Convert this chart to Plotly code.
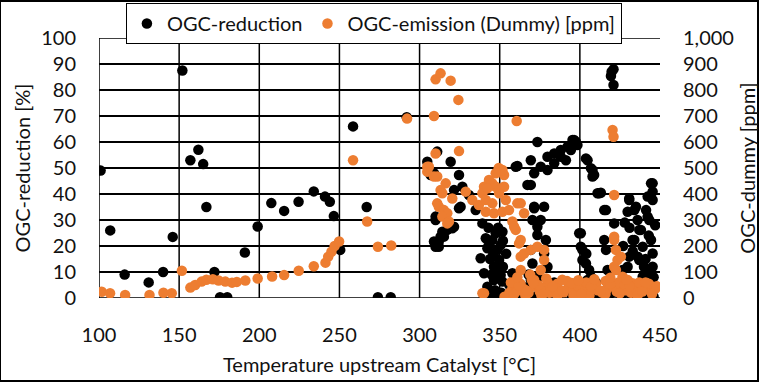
import plotly.graph_objects as go

# ---------------- data ----------------
red_temp = [101, 107, 116, 131, 140, 146, 152, 157, 162, 165, 167, 172, 175.5, 180, 191, 199,
            207.5, 215.5, 224.5, 234, 241, 244, 246.5, 250.5, 258.5, 267, 274, 282, 292,
            304.8, 306.9, 309, 311, 319.4, 321.5, 324.6, 326.7, 330.8, 335, 324.6, 325.6, 339.2,
            310, 310, 314.2, 317.3, 320.4, 321.5, 312, 309, 313.1, 315.2, 310, 312,
            341.3, 345.4, 347.5, 351.7, 342.3, 348.5, 350.6, 338.1, 349.6, 347.5, 346.4,
            340.2, 350.6, 357.9, 346.4, 342.3, 351.7, 353.8, 340.2, 354.8,
            360, 361, 367.3, 369.4, 369.4, 371.5, 373.5, 375.6, 379.8, 379.8, 384, 384,
            388.1, 388.1, 391.3, 392.3, 394.4, 395.4, 397.5, 398.5, 396.4, 403.8, 404.8,
            406.9, 407.9, 407.9, 408.9, 411, 412, 413.1, 415.2, 416.3,
            419.4, 419.8, 421, 421, 421.4, 430.8, 430.8, 429.8, 435, 434, 442.3, 445.4,
            444.4, 445.4, 445.4, 441.3, 443.3, 442.3, 438.1, 437.1, 444.4, 432.9, 434,
            439.2, 445.4, 436.1, 437.1, 445.4, 429.8, 442.3, 439.2, 440.2, 425.6, 426.6,
            430.8, 417.3, 415.2, 416.3, 399.6, 400.6, 400.6, 401.6, 401.6, 403.8, 405.8,
            404.8, 406.9, 370.4, 373.5, 375.6, 377.7, 371.5, 371.5, 369.4, 370.4, 373.5,
            378.8, 377.7, 379.8, 369.4, 373.5,
            363, 371.5, 380, 388, 395, 400.6, 408, 413, 420, 425.6, 432, 440.2, 446,
            358, 366, 385, 417,
            343, 344, 345, 347, 349, 352, 354, 356, 344, 348, 351, 356, 343, 346, 352,
            366, 368, 374, 377, 381, 384, 402, 404, 407, 410,
            427, 431, 433, 437, 441, 443, 447, 446, 428, 436, 440]
red_pct = [49, 26, 9, 6, 10, 23.5, 87.5, 53, 57, 51.5, 35, 10, 0.3, 0.3, 17.5, 27.5,
           36.5, 33.5, 37, 41, 39, 37, 31.5, 18.5, 66, 35, 0.3, 0.3, 69.5,
           52.4, 47.3, 48, 56.3, 52.4, 41.5, 47.3, 42.8, 39.6, 33.8, 34.5, 35.1, 28.7,
           30, 31.3, 25.5, 26.2, 26.8, 27.4, 21.7, 21.7, 23.6, 23.6, 19.7, 19.7,
           23, 22.3, 24.9, 25.5, 19.1, 18.5, 20.4, 15.3, 14.6, 12, 12,
           9.5, 8.8, 9.5, 6.9, 4.3, 6.3, 0.5, 0.3, 0.3,
           50.5, 50.8, 43.5, 43.5, 53, 48, 60, 50.5, 49.2, 54.3, 51.8, 55.6,
           54.3, 56.9, 53, 58.2, 56.9, 60.8, 60.1, 58.8, 60.8, 53.7, 53,
           49.9, 49.2, 46.7, 47.3, 40.3, 40.3, 40.5, 33.8, 33.8,
           85.4, 87, 88, 81.9, 28.7, 38.3, 37.7, 33.2, 35.1, 33.8, 39, 37.7,
           44.1, 44.1, 40.9, 33.8, 30, 31.3, 26.2, 26.2, 22.3, 22.3, 22.3,
           19.7, 17.1, 15.9, 14.6, 12, 12, 9.5, 8.2, 3.1, 5.7, 10.8,
           15.9, 10.8, 22.3, 18.5, 24.9, 24.9, 19.7, 18.5, 14.6, 13.3, 10.8,
           6.9, 8.2, 30, 27.4, 30, 35.1, 34.5, 35.1, 18.5, 13.3, 24.2,
           22.3, 17.1, 12, 6.9, 4.3,
           0.3, 0.5, 1, 0.5, 0.8, 0.3, 1.5, 0.3, 2, 0.5, 1, 0.3, 0.5,
           2, 1.5, 2.5, 3.5,
           27, 15, 9, 3, 27, 12, 17, 5, 1, 1, 2, 0.5, 20, 17, 22,
           4, 9, 8, 2, 3, 6, 4, 17, 3, 6,
           20, 27, 18, 5, 15, 24, 28, 8, 29, 30, 12]

emi_temp = [101.7, 106.9, 116.3, 131.5, 140.2, 145.4, 151.7, 157, 160, 164, 167, 171, 174.6,
            178.8, 183, 186, 191.3, 199, 208, 215.5, 224.6, 234, 241.3, 243, 245, 247, 249.8,
            258.5, 267.3, 274, 282.3, 292.2, 309, 310, 313.1, 319.4, 324.2, 324.6, 310,
            304.8, 360.6, 349.4, 420.4, 421, 421.4,
            305.8, 311, 304.8, 309, 316.3, 313.1, 314.2, 320.4, 311, 312, 315.2, 317.3,
            314.2, 318.3, 317.3, 328.8, 332.9, 337, 341.3, 346.4, 351.7, 355.8, 353.8,
            352.7, 352.7, 351.7, 347.5, 343.3, 340.2, 339.2, 341.3, 345.4, 349.6, 347.5,
            345.4, 342.3, 357.9, 360, 362.1, 363.1, 361, 359, 365.2, 363.1, 363.1, 365.2,
            363.1, 369.4, 373.5, 377.7, 377.7, 375.6, 371.5, 339.2, 340.2, 356.9, 362.1,
            421.4, 421.4, 422.5, 423.5, 425.6, 421.4, 422.5, 426.6, 429.8, 432.9, 434,
            439.2, 445.4, 446.5,
            358, 360, 365, 368, 372, 375, 378, 381, 384, 387, 390, 393, 396, 399, 402,
            405, 408, 411, 414, 417, 420, 423, 426, 429, 432, 435, 438, 441, 444, 447,
            366, 376, 386, 396, 406, 416, 436,
            357, 363, 370, 374, 380, 386, 392, 398, 404, 410, 416, 424, 428, 437, 443,
            448, 353, 356,
            359, 362, 367, 371, 377, 383, 389, 395, 401, 407, 413, 419, 425, 431, 439, 445,
            361, 369, 379, 389, 399, 409, 419, 429, 441]
emi_ppm = [24, 18, 12, 12, 20, 18, 105, 40, 50, 63, 70, 72, 67,
           63, 59, 62, 67, 75, 83, 88, 105, 122, 136, 159, 178, 200, 217,
           530, 294, 197, 202, 690, 700, 841, 864, 836, 762, 565, 556,
           505, 681, 500, 646, 620, 396,
           505, 467, 486, 467, 441, 415, 403, 383, 364, 351, 338, 326,
           313, 294, 287, 409, 377, 358, 332, 326, 332, 338, 377,
           428, 473, 492, 480, 454, 428, 403, 377, 364, 403, 428,
           441, 422, 294, 262, 210, 159, 364, 274, 171, 108, 364, 326,
           223, 185, 197, 185, 146, 108, 69, 18, 18, 18, 31,
           236, 223, 185, 146, 159, 120, 108, 82, 69, 57, 43,
           50, 43, 37,
           40, 25, 35, 20, 45, 25, 38, 20, 40, 30, 22, 42, 30, 20, 38,
           25, 40, 30, 20, 35, 50, 25, 40, 30, 20, 35, 25, 40, 30, 35,
           10, 10, 10, 10, 10, 15, 10,
           60, 55, 70, 50, 60, 55, 65, 50, 60, 55, 65, 60, 50, 60, 55,
           45, 5, 20,
           15, 48, 28, 58, 15, 45, 28, 58, 15, 45, 28, 55, 18, 45, 25, 15,
           80, 90, 75, 70, 68, 72, 78, 70, 60]

x_ticks = [100, 150, 200, 250, 300, 350, 400, 450]
grid_x = [100, 150, 200, 250, 300, 350, 400]
grid_y_edges = [0, 100]

FONT = "Lato"
TXT = "#111111"
ORANGE = "#ED7D31"

fig = go.Figure()
fig.add_trace(go.Scatter(x=red_temp, y=red_pct, mode="markers", name="OGC-reduction",
                         marker=dict(color="black", size=10.5), yaxis="y"))
fig.add_trace(go.Scatter(x=emi_temp, y=emi_ppm, mode="markers", name="OGC-emission (Dummy) [ppm]",
                         marker=dict(color=ORANGE, size=10.5), yaxis="y2"))

shapes = [dict(type="line", xref="x", yref="paper", x0=g, x1=g, y0=0, y1=1,
               line=dict(color="black", width=1.5), layer="below") for g in grid_x]
shapes += [dict(type="line", xref="paper", yref="y", x0=0, x1=1, y0=g, y1=g,
                line=dict(color="black", width=1.5), layer="below") for g in grid_y_edges]
# outer frame
shapes.append(dict(type="rect", xref="paper", yref="paper",
                   x0=-99 / 561, x1=(758 - 99) / 561, y0=-(381 - 298) / 260, y1=1 + 37 / 260,
                   line=dict(color="black", width=2), fillcolor="rgba(0,0,0,0)"))

fig.update_layout(
    width=759, height=382,
    margin=dict(l=99, r=99, t=38, b=84, autoexpand=False),
    paper_bgcolor="white", plot_bgcolor="white",
    font=dict(family=FONT, size=20, color=TXT),
    showlegend=True,
    legend=dict(orientation="h", x=0.49, xanchor="center", y=1 + 35 / 260, yanchor="top",
                bordercolor="black", borderwidth=1, bgcolor="white",
                font=dict(family=FONT, size=20, color=TXT), itemwidth=30,
                tracegroupgap=0),
    xaxis=dict(range=[100, 450], tickvals=x_ticks, showgrid=False, zeroline=False,
               showline=False, ticks="", ticklabelstandoff=23, automargin=False,
               title=dict(text="Temperature upstream Catalyst [°C]", standoff=12,
                          font=dict(size=20))),
    yaxis=dict(range=[0, 100], dtick=10, showgrid=True, gridcolor="black", gridwidth=1.5,
               zeroline=False, showline=False, ticks="", ticklabelstandoff=22, automargin=False,
               title=dict(text="OGC-reduction [%]", standoff=5, font=dict(size=20))),
    yaxis2=dict(range=[0, 1000], dtick=100, overlaying="y", side="right", showgrid=False,
                zeroline=False, showline=False, ticks="", tickformat=",", automargin=False,
                ticklabelstandoff=22,
                title=dict(text="OGC-dummy [ppm]", standoff=8, font=dict(size=20))),
    shapes=shapes,
)

fig.write_html("out.html")
